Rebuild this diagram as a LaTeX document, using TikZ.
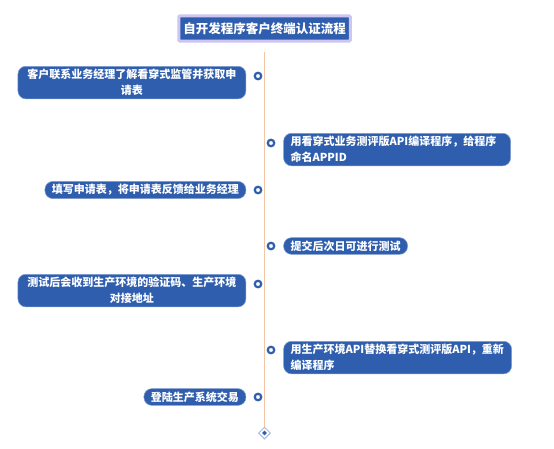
\documentclass[tikz,border=0pt]{standalone}
\usepackage{fontspec}
\setmainfont{Noto Sans CJK SC}
\usetikzlibrary{shapes.geometric,positioning}
\definecolor{boxblue}{HTML}{2F5EAE}
\definecolor{linepeach}{HTML}{F0C6A6}
\definecolor{glow}{HTML}{CEC6F2}
\definecolor{diamondblue}{HTML}{A9B9E3}
\tikzset{
        stepbox/.style={fill=boxblue, draw=boxblue!60!white, line width=0.5pt, rounded corners=8pt,
                text=white, font=\bfseries\fontsize{11}{16}\selectfont,
                inner xsep=7pt, inner ysep=3pt},
        dot/.style={circle, draw=boxblue, fill=white, line width=2.2pt, inner sep=0pt, minimum size=6.5pt},
        titlebox/.style={fill=boxblue, draw=glow, line width=3pt, rounded corners=1pt,
                text=white, font=\bfseries\fontsize{12.5}{14}\selectfont,
                inner xsep=4.5pt, inner ysep=6.5pt}
}
\begin{document}
\begin{tikzpicture}[x=1pt,y=-1pt]
        \useasboundingbox[fill=white] (0,0) rectangle (554,448);
        % title and time line
        \node[titlebox] (title) at (264.5,28.5) {自开发程序客户终端认证流程};
        \coordinate (top) at (264.5,52);
        \node[diamond, draw=diamondblue, fill=white, line width=1pt, inner sep=0pt, minimum size=12pt] (end) at (264.5,433) {};
        \node[diamond, fill=boxblue, inner sep=0pt, minimum size=5pt] (endin) at (end.center) {};
        \draw[linepeach, line width=1pt] (top) -- (end.north);
        % dots on both sides of the line
        \foreach \name/\x/\y in {d1/258/76, d2/271/143, d3/258/190, d4/271/246, d5/258/284, d6/271/350, d7/258/397} {
                \node[dot] (\name) at (\x,\y) {};
        }
        % steps on the left
        \node[stepbox, anchor=north east, text width=214pt, align=center] (b1) at ([xshift=-7.5pt,yshift=10pt]d1.west)
                {客户联系业务经理了解看穿式监管并获取申\\请表};
        \node[stepbox, left=7.5pt of d3] (b3) {填写申请表，将申请表反馈给业务经理};
        \node[stepbox, anchor=north east, text width=214pt, align=center] (b5) at ([xshift=-7.5pt,yshift=10pt]d5.west)
                {测试后会收到生产环境的验证码、生产环境\\对接地址};
        \node[stepbox, left=7.5pt of d7] (b7) {登陆生产系统交易};
        % steps on the right
        \node[stepbox, anchor=north west, text width=213pt, align=left] (b2) at ([xshift=8pt,yshift=10pt]d2.east)
                {用看穿式业务测评版API编译程序，给程序\\命名APPID};
        \node[stepbox, right=8pt of d4] (b4) {提交后次日可进行测试};
        \node[stepbox, anchor=north west, text width=214pt, align=left] (b6) at ([xshift=8pt,yshift=9pt]d6.east)
                {用生产环境API替换看穿式测评版API，重新\\编译程序};
\end{tikzpicture}
\end{document}
